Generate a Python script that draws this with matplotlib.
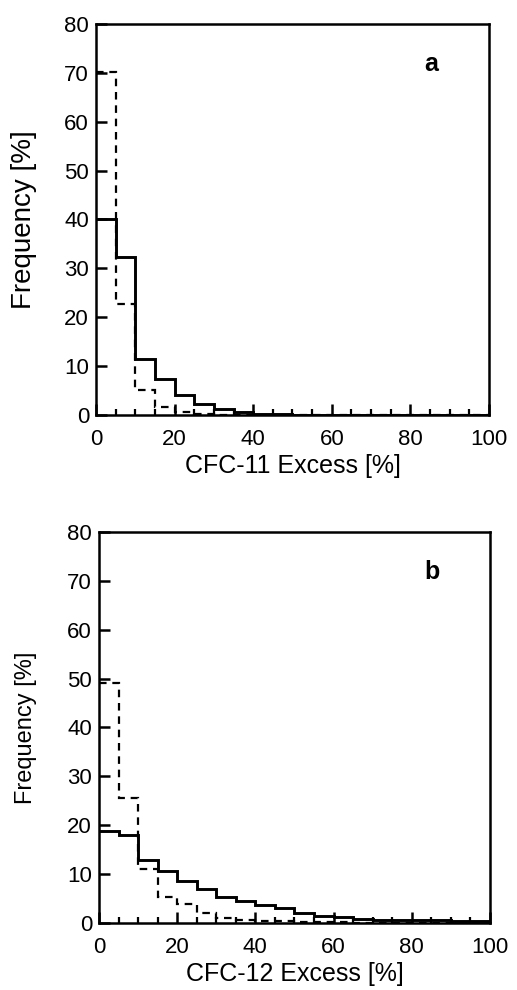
import numpy as np
import matplotlib
matplotlib.use("Agg")
import matplotlib.pyplot as plt
from matplotlib.ticker import MultipleLocator

edges = np.arange(0, 105, 5)

# Panel a: CFC-11 excess frequency [%]
cfc11_solid = [40.0, 32.4, 11.5, 7.3, 4.1, 2.2, 1.2, 0.6, 0.3, 0.2,
               0.1, 0.1, 0.05, 0.05, 0.05, 0.0, 0.0, 0.0, 0.0, 0.0]
cfc11_dashed = [70.2, 22.8, 5.1, 1.6, 0.7, 0.3, 0.1, 0.05, 0.0, 0.0,
                0.0, 0.0, 0.0, 0.0, 0.0, 0.0, 0.0, 0.0, 0.0, 0.0]

# Panel b: CFC-12 excess frequency [%]
cfc12_solid = [18.9, 18.0, 12.9, 10.6, 8.5, 6.9, 5.4, 4.4, 3.7, 3.0,
               2.1, 1.5, 1.2, 0.75, 0.6, 0.6, 0.7, 0.6, 0.5, 0.5]
cfc12_dashed = [49.0, 25.5, 11.0, 5.4, 3.9, 2.0, 1.1, 0.6, 0.5, 0.4,
                0.2, 0.1, 0.1, 0.05, 0.0, 0.0, 0.0, 0.0, 0.0, 0.0]

xticks = [0, 20, 40, 60, 80, 100]
yticks = [0, 10, 20, 30, 40, 50, 60, 70, 80]

plt.rcParams['font.family'] = ['Liberation Sans', 'DejaVu Sans']

fig = plt.figure(figsize=(5.17, 9.90), dpi=100)
ax_a = fig.add_axes([0.1857, 0.5808, 0.760, 0.395])
ax_b = fig.add_axes([0.1915, 0.0677, 0.756, 0.395])

panels = [
    (ax_a, cfc11_solid, cfc11_dashed, "CFC-11 Excess [%]", "a", 20, -0.15),
    (ax_b, cfc12_solid, cfc12_dashed, "CFC-12 Excess [%]", "b", 17, -0.158),
]

for ax, solid, dashed, xlabel, tag, ylsize, ylx in panels:
    ax.stairs(dashed, edges, baseline=None, color="black", lw=1.6,
              linestyle=(0, (3.4, 2.6)))
    ax.stairs(solid, edges, baseline=None, color="black", lw=2.1)
    ax.set_xlim(0, 100)
    ax.set_ylim(0, 80)
    ax.set_xticks(xticks)
    ax.set_yticks(yticks)
    ax.xaxis.set_minor_locator(MultipleLocator(5))
    ax.tick_params(axis="both", which="major", direction="in", width=1.8,
                   labelsize=16, top=False, right=False)
    ax.tick_params(axis="x", which="major", length=8, pad=10)
    ax.tick_params(axis="y", which="major", length=8, pad=5)
    ax.tick_params(axis="x", which="minor", direction="in", length=4, width=1.6,
                   top=False)
    ax.tick_params(axis="y", which="minor", left=False, right=False)
    for s in ax.spines.values():
        s.set_linewidth(1.8)
    ax.set_xlabel(xlabel, fontsize=18, labelpad=3)
    ax.set_ylabel("Frequency [%]", fontsize=ylsize)
    ax.yaxis.set_label_coords(ylx, 0.5)
    ax.text(0.852, 0.88, tag, transform=ax.transAxes, fontsize=18,
            fontweight="bold", ha="center", va="baseline")

fig.savefig("out.png", dpi=100)
